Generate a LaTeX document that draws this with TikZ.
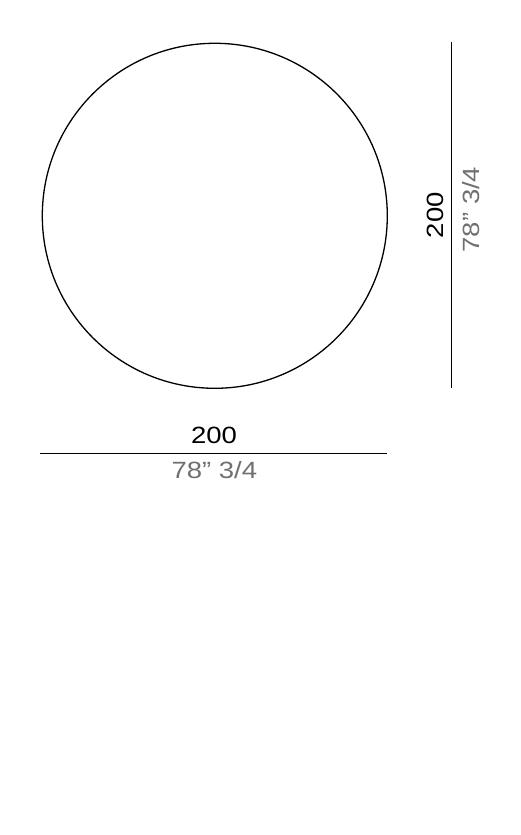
\documentclass[tikz,border=0pt]{standalone}
\usepackage{fontspec}
\setmainfont[FakeStretch=1.17]{Liberation Sans}
\definecolor{dimgray}{RGB}{112,112,112}
\begin{document}
\begin{tikzpicture}[x=1pt,y=1pt,
  outline/.style={line width=1.3pt,black},
  dimline/.style={line width=1.3pt,black},
  mainlabel/.style={font=\fontsize{23.5}{23.5}\selectfont,text=black,inner sep=0pt,anchor=base},
  sublabel/.style={font=\fontsize{23.5}{23.5}\selectfont,text=dimgray,inner sep=0pt,anchor=base}]
\useasboundingbox (0,0) rectangle (521,835);
\draw[outline] (214.8,619.2) circle (172.5);
% horizontal dimension
\coordinate (hl) at (40,381.7);
\coordinate (hr) at (387,381.7);
\draw[dimline] (hl) -- (hr);
\node[mainlabel] (h200) at (214,391.3) {200};
\node[sublabel] (hin) at (214.4,356) {78” 3/4};
% vertical dimension
\coordinate (vt) at (451.3,792.7);
\coordinate (vb) at (451.3,446.7);
\draw[dimline] (vt) -- (vb);
\node[mainlabel,rotate=90] (v200) at (443.3,619.7) {200};
\node[sublabel,rotate=90] (vin) at (479.3,625.5) {78” 3/4};
\end{tikzpicture}
\end{document}
